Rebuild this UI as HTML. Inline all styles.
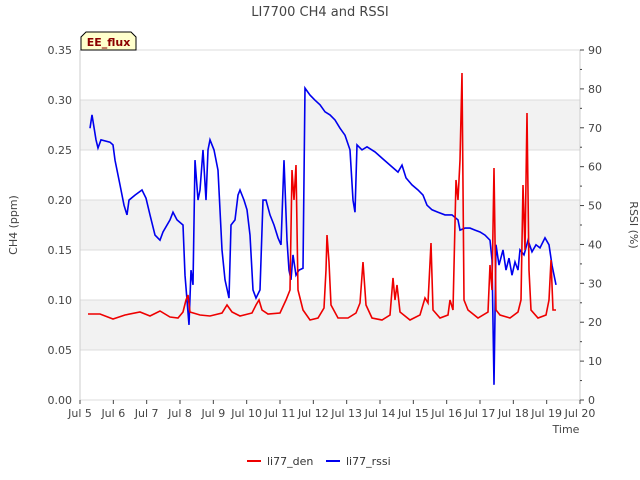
<!DOCTYPE html>
<html><head><meta charset="utf-8"><style>
body{margin:0;background:#fff;}
svg{display:block;font-family:"DejaVu Sans","Liberation Sans",sans-serif;}
</style></head><body>
<svg id="chart" width="640" height="480" viewBox="0 0 640 480">
<text x="320" y="16" text-anchor="middle" font-size="13" fill="#444">LI7700 CH4 and RSSI</text>
<g id="bands"></g><g id="grid"></g><g id="axes"></g><g id="series"></g>
<text x="17" y="225" transform="rotate(-90 17 225)" text-anchor="middle" font-size="11" fill="#444">CH4 (ppm)</text>
<text x="630" y="225" transform="rotate(90 630 225)" text-anchor="middle" font-size="11" fill="#444">RSSI (%)</text>
<text x="566" y="433" text-anchor="middle" font-size="11" fill="#444">Time</text>
<g>
<path d="M81,50 L81,37 L86,32 L131,32 L136,37 L136,50 Z" fill="#ffffcc" stroke="#000" stroke-width="1"/>
<text x="108.5" y="46" text-anchor="middle" font-size="11" font-weight="bold" fill="#8b0000">EE_flux</text>
</g>
<g>
<g><line x1="247" y1="461" x2="261" y2="461" stroke="#e00" stroke-width="2"/><text x="267" y="465" font-size="11" fill="#333">li77_den</text></g>
<g><line x1="326" y1="461" x2="340" y2="461" stroke="#00e" stroke-width="2"/><text x="346" y="465" font-size="11" fill="#333">li77_rssi</text></g>
</g>
</svg>
<script>
const xTickLabels=["Jul 5","Jul 6","Jul 7","Jul 8","Jul 9","Jul 10","Jul 11","Jul 12","Jul 13","Jul 14","Jul 15","Jul 16","Jul 17","Jul 18","Jul 19","Jul 20"];
const yTicks=[0,0.05,0.10,0.15,0.20,0.25,0.30,0.35];
const y2Ticks=[0,10,20,30,40,50,60,70,80,90];
const denT=[5.24,5.60,5.99,6.35,6.80,7.10,7.40,7.70,7.94,8.09,8.18,8.24,8.30,8.60,8.90,9.26,9.41,9.56,9.80,10.16,10.28,10.37,10.46,10.64,11.00,11.18,11.30,11.36,11.42,11.48,11.54,11.69,11.90,12.14,12.32,12.38,12.41,12.47,12.53,12.74,13.04,13.28,13.40,13.49,13.58,13.76,14.06,14.30,14.39,14.45,14.51,14.60,14.90,15.20,15.35,15.44,15.53,15.59,15.80,16.04,16.10,16.19,16.28,16.34,16.40,16.46,16.52,16.64,16.94,17.24,17.30,17.36,17.42,17.48,17.60,17.90,18.14,18.23,18.29,18.35,18.41,18.47,18.53,18.74,18.98,19.07,19.13,19.19,19.28];
const denV=[.086,.086,.081,.085,.088,.084,.089,.083,.082,.088,.100,.105,.088,.085,.084,.087,.095,.088,.084,.087,.095,.100,.090,.086,.087,.100,.110,.230,.200,.235,.110,.090,.080,.082,.092,.130,.165,.138,.095,.082,.082,.087,.097,.138,.095,.082,.080,.085,.122,.100,.115,.088,.080,.085,.102,.097,.157,.090,.082,.085,.100,.090,.220,.200,.240,.327,.100,.090,.082,.088,.135,.110,.232,.090,.085,.082,.088,.100,.215,.150,.287,.130,.090,.082,.085,.100,.140,.090,.090];
const rssiT=[5.30,5.36,5.48,5.54,5.63,5.90,5.99,6.05,6.20,6.32,6.41,6.47,6.65,6.86,6.98,7.10,7.25,7.40,7.49,7.70,7.79,7.91,8.09,8.15,8.21,8.27,8.33,8.39,8.45,8.54,8.60,8.69,8.78,8.84,8.90,9.02,9.14,9.26,9.35,9.47,9.53,9.65,9.74,9.80,9.92,10.01,10.10,10.19,10.28,10.40,10.49,10.58,10.70,10.82,10.94,11.03,11.12,11.21,11.27,11.33,11.39,11.48,11.57,11.69,11.75,11.90,12.05,12.20,12.35,12.50,12.65,12.80,12.95,13.10,13.19,13.25,13.31,13.46,13.61,13.85,14.06,14.30,14.54,14.66,14.78,14.96,15.14,15.29,15.41,15.56,15.74,15.95,16.16,16.34,16.40,16.55,16.70,16.85,17.00,17.15,17.30,17.36,17.42,17.48,17.57,17.69,17.78,17.87,17.96,18.05,18.14,18.20,18.32,18.44,18.56,18.68,18.80,18.95,19.07,19.16,19.28];
const rssiV=[69.9,73.3,66.9,64.8,66.9,66.3,65.6,61.7,55.3,50.1,47.6,51.4,52.7,54.0,51.9,47.6,42.4,41.1,43.2,46.3,48.3,46.3,45.0,32.1,25.7,19.3,33.4,29.6,61.7,51.4,54.0,64.3,51.4,64.3,66.9,64.3,59.1,38.6,30.9,26.2,45.0,46.3,52.7,54.0,51.4,48.9,42.4,28.3,26.2,28.3,51.4,51.4,47.6,45.0,41.7,39.9,61.7,41.1,33.4,30.9,37.3,32.1,33.4,33.9,80.2,78.4,77.1,75.9,74.1,73.3,72.0,69.9,68.1,64.3,51.4,48.3,65.6,64.3,65.1,63.8,62.2,60.4,58.6,60.4,57.1,55.3,54.0,52.7,50.1,48.9,48.3,47.6,47.6,46.3,43.7,44.2,44.2,43.7,43.2,42.4,41.1,36.0,3.9,39.9,34.7,38.6,33.4,36.5,32.1,35.5,33.4,38.6,37.3,41.1,38.1,39.9,39.1,41.7,39.9,34.7,29.6];

const L=80,R=580,T=50,B=400,NS="http://www.w3.org/2000/svg";
const xS=d=>L+(d-5)*(R-L)/15;
const yS=v=>B-v*(B-T)/0.35;
const y2S=v=>B-v*(B-T)/90;
function mk(tag,attrs,parent){const e=document.createElementNS(NS,tag);for(const k in attrs)e.setAttribute(k,attrs[k]);document.getElementById(parent).appendChild(e);return e;}
for(let i=1;i<yTicks.length;i+=2){
 const b=mk('rect',{x:L,y:yS(yTicks[i+1]),width:R-L,height:yS(yTicks[i])-yS(yTicks[i+1]),fill:'#f2f2f2'},'bands');
 
 
}
yTicks.forEach(v=>{
 const g=mk('line',{x1:L,x2:R,y1:yS(v),y2:yS(v),stroke:'#dcdcdc','stroke-width':1},'grid');
 
 
 const t=mk('text',{x:L-8,y:yS(v)+4,'text-anchor':'end','font-size':11,fill:'#444'},'axes');
 t.textContent=v.toFixed(2);
 
 
});
mk('line',{x1:L,x2:L,y1:T,y2:B,stroke:'#ccc'},'axes');
mk('line',{x1:R,x2:R,y1:T,y2:B,stroke:'#ccc'},'axes');
y2Ticks.forEach(v=>{
 mk('line',{x1:R,x2:R+4,y1:y2S(v),y2:y2S(v),stroke:'#444'},'axes');
 const t=mk('text',{x:R+8,y:y2S(v)+4,'font-size':11,fill:'#444'},'axes');
 t.textContent=v;
 
 
});
for(let v=5;v<90;v+=10){mk('line',{x1:R,x2:R+2,y1:y2S(v),y2:y2S(v),stroke:'#444'},'axes');}
xTickLabels.forEach((s,i)=>{
 mk('line',{x1:xS(5+i),x2:xS(5+i),y1:B,y2:B+4,stroke:'#444'},'axes');
 const t=mk('text',{x:xS(5+i),y:B+17,'text-anchor':'middle','font-size':11,fill:'#444'},'axes');
 t.textContent=s;
 
 
});
const rp=mk('polyline',{points:rssiT.map((t,i)=>xS(t).toFixed(1)+','+y2S(rssiV[i]).toFixed(1)).join(' '),fill:'none',stroke:'#0000ee','stroke-width':1.6},'series');


const dp=mk('polyline',{points:denT.map((t,i)=>xS(t).toFixed(1)+','+yS(denV[i]).toFixed(1)).join(' '),fill:'none',stroke:'#ee0000','stroke-width':1.6},'series');


</script>
</body></html>
